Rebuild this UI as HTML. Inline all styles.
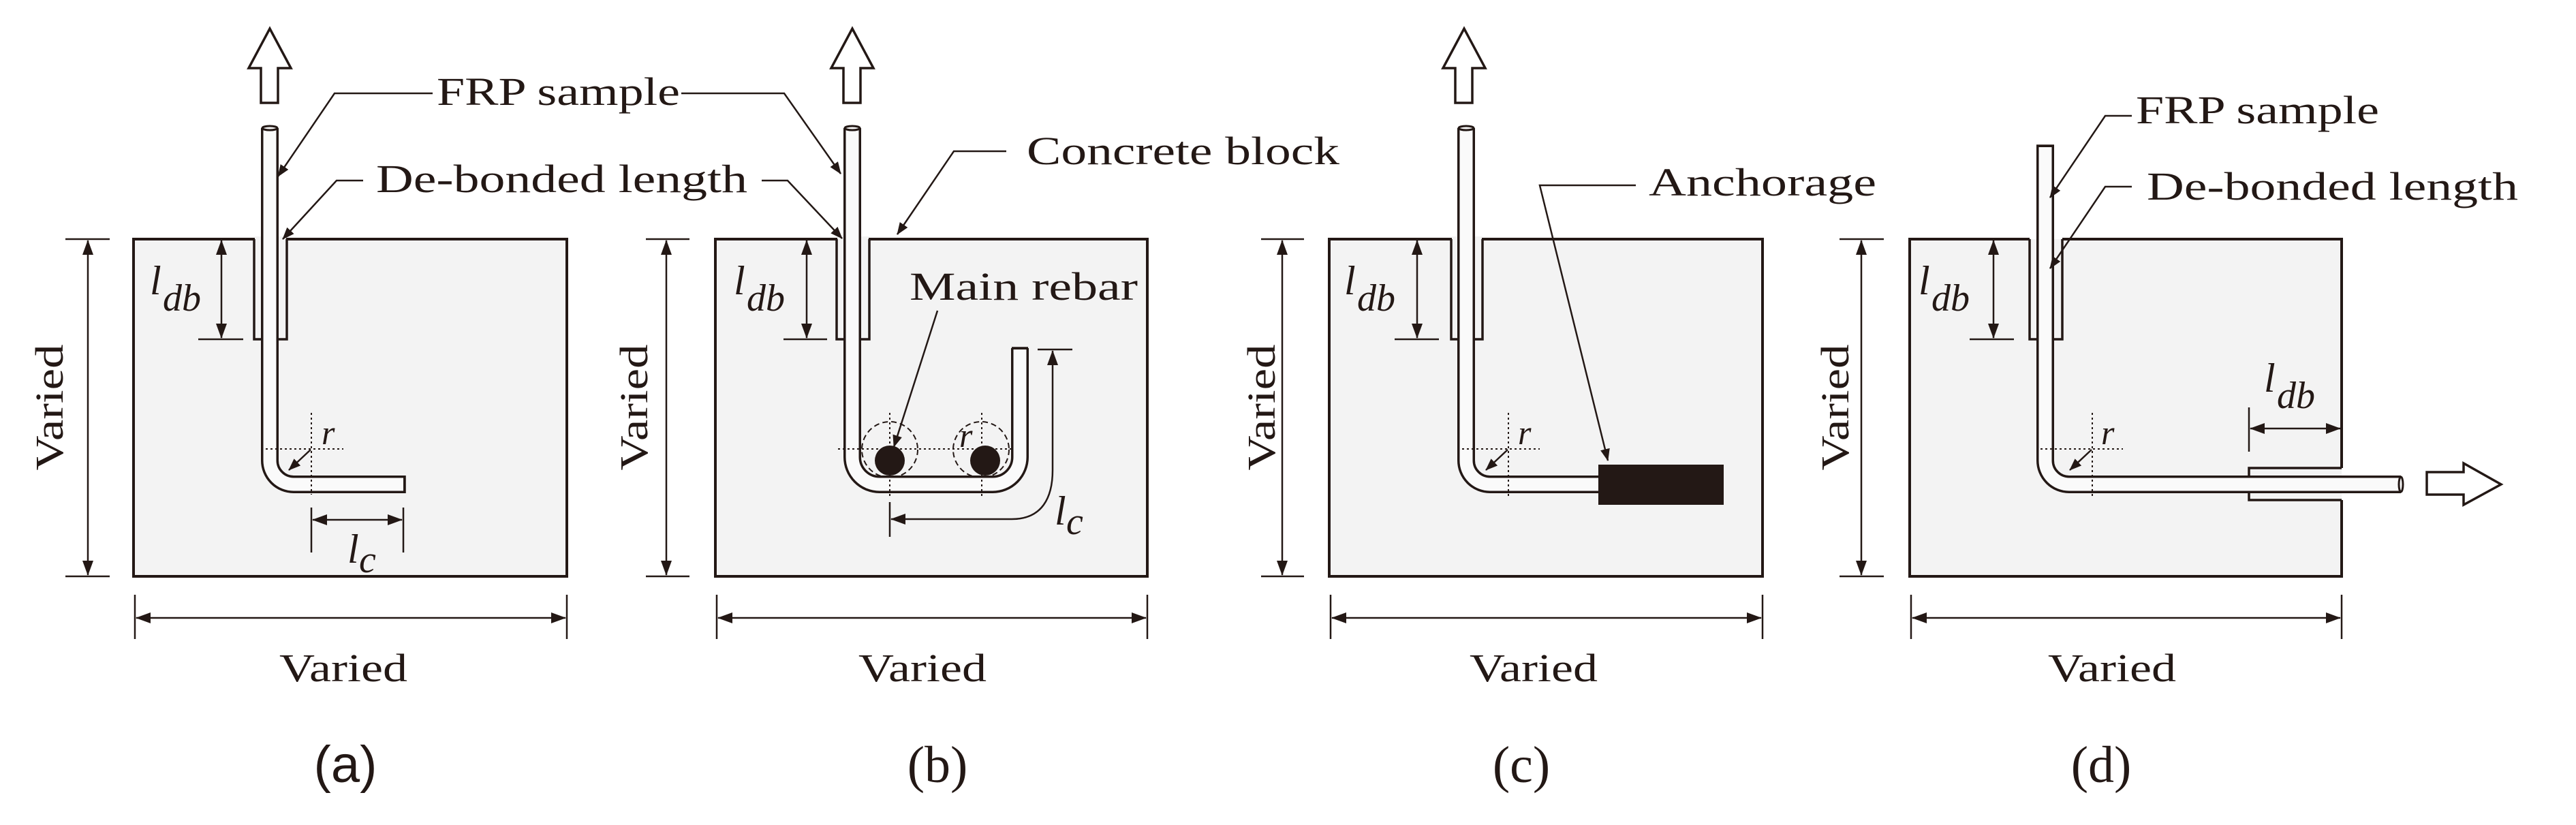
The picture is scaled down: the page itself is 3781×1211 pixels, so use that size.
<!DOCTYPE html>
<html><head><meta charset="utf-8"><style>
html,body{margin:0;padding:0;background:#fff;}
svg{display:block;}
text{font-family:"Liberation Serif",serif;fill:#231815;}
.lab{font-size:58px;}
.it{font-style:italic;}
</style></head><body>
<svg width="3781" height="1211" viewBox="0 0 3781 1211" xmlns="http://www.w3.org/2000/svg">
<defs>
<marker id="ah" markerUnits="userSpaceOnUse" markerWidth="22" markerHeight="16" viewBox="0 0 22 16" refX="21" refY="8" orient="auto-start-reverse">
<path d="M0,0 L22,8 L0,16 z" fill="#231815"/></marker>
<marker id="sa" markerUnits="userSpaceOnUse" markerWidth="18" markerHeight="14" viewBox="0 0 18 14" refX="17" refY="7" orient="auto">
<path d="M0,0 L18,7 L0,14 z" fill="#231815"/></marker>
</defs>
<g stroke="#231815" fill="none">

<!-- ============ Panel A ============ -->
<rect x="196" y="351" width="636" height="495" fill="#f3f3f3" stroke-width="4"/>
<rect x="374" y="347" width="46" height="8" fill="#f3f3f3" stroke="none"/>
<path d="M373,351 V498 H421 V351" stroke-width="3.5"/>
<path d="M396,188 V676 A35,35 0 0 0 431,711 H594" stroke-width="26"/>
<path d="M396,187 V676 A35,35 0 0 0 431,711 H592" stroke="#fafafa" stroke-width="19"/>
<line x1="594" y1="698" x2="594" y2="724" stroke-width="3.5"/>
<ellipse cx="396" cy="188" rx="11" ry="3" stroke-width="3"/>
<polygon points="396,42 427,100 408,100 408,151 383,151 383,100 365,100" stroke-width="3.5" fill="#fff"/>
<line x1="96" y1="351" x2="161" y2="351" stroke-width="2.5"/>
<line x1="96" y1="846" x2="161" y2="846" stroke-width="2.5"/>
<line x1="129" y1="353" x2="129" y2="844" stroke-width="2.5" marker-start="url(#ah)" marker-end="url(#ah)"/>
<line x1="198" y1="873" x2="198" y2="938" stroke-width="2.5"/>
<line x1="832" y1="873" x2="832" y2="938" stroke-width="2.5"/>
<line x1="200" y1="907" x2="830" y2="907" stroke-width="2.5" marker-start="url(#ah)" marker-end="url(#ah)"/>
<line x1="291" y1="498" x2="357" y2="498" stroke-width="2.5"/>
<line x1="325" y1="353" x2="325" y2="496" stroke-width="2.5" marker-start="url(#ah)" marker-end="url(#ah)"/>
<line x1="457" y1="745" x2="457" y2="811" stroke-width="2.5"/>
<line x1="592" y1="745" x2="592" y2="811" stroke-width="2.5"/>
<line x1="459" y1="763" x2="590" y2="763" stroke-width="2.5" marker-start="url(#ah)" marker-end="url(#ah)"/>
<line x1="383" y1="659" x2="504" y2="659" stroke-width="2" stroke-dasharray="3,4"/>
<line x1="457" y1="606" x2="457" y2="726" stroke-width="2" stroke-dasharray="3,4"/>
<line x1="456" y1="660" x2="424" y2="690" stroke-width="2.5" marker-end="url(#sa)"/>
<polyline points="635,137 491,137 408,259" stroke-width="2.5" marker-end="url(#sa)"/>
<polyline points="533,265 494,265 415,351" stroke-width="2.5" marker-end="url(#sa)"/>

<!-- ============ Panel B ============ -->
<rect x="1050" y="351" width="634" height="495" fill="#f3f3f3" stroke-width="4"/>
<rect x="1229" y="347" width="46" height="8" fill="#f3f3f3" stroke="none"/>
<path d="M1228,351 V498 H1276 V351" stroke-width="3.5"/>
<circle cx="1306" cy="660" r="41" stroke-width="2" stroke-dasharray="8,5"/>
<circle cx="1440" cy="660" r="41" stroke-width="2" stroke-dasharray="8,5"/>
<path d="M1251,188 V671 A40,40 0 0 0 1291,711 H1457 A40,40 0 0 0 1497,671 V511" stroke-width="26"/>
<path d="M1251,187 V671 A40,40 0 0 0 1291,711 H1457 A40,40 0 0 0 1497,671 V513" stroke="#fafafa" stroke-width="19"/>
<line x1="1485" y1="511" x2="1509" y2="511" stroke-width="3.5"/>
<ellipse cx="1251" cy="188" rx="11" ry="3" stroke-width="3"/>
<ellipse cx="1306" cy="676" rx="22" ry="22" fill="#231815" stroke="none"/>
<ellipse cx="1446" cy="676" rx="22" ry="22" fill="#231815" stroke="none"/>
<line x1="1230" y1="659" x2="1485" y2="659" stroke-width="2" stroke-dasharray="3,4"/>
<line x1="1306" y1="606" x2="1306" y2="730" stroke-width="2" stroke-dasharray="3,4"/>
<line x1="1441" y1="606" x2="1441" y2="730" stroke-width="2" stroke-dasharray="3,4"/>
<polygon points="1251,42 1282,100 1263,100 1263,151 1238,151 1238,100 1220,100" stroke-width="3.5" fill="#fff"/>
<line x1="948" y1="351" x2="1012" y2="351" stroke-width="2.5"/>
<line x1="948" y1="846" x2="1012" y2="846" stroke-width="2.5"/>
<line x1="978" y1="353" x2="978" y2="844" stroke-width="2.5" marker-start="url(#ah)" marker-end="url(#ah)"/>
<line x1="1052" y1="873" x2="1052" y2="938" stroke-width="2.5"/>
<line x1="1684" y1="873" x2="1684" y2="938" stroke-width="2.5"/>
<line x1="1054" y1="907" x2="1682" y2="907" stroke-width="2.5" marker-start="url(#ah)" marker-end="url(#ah)"/>
<line x1="1150" y1="498" x2="1214" y2="498" stroke-width="2.5"/>
<line x1="1184" y1="353" x2="1184" y2="496" stroke-width="2.5" marker-start="url(#ah)" marker-end="url(#ah)"/>
<line x1="1306" y1="737" x2="1306" y2="788" stroke-width="2.5"/>
<line x1="1523" y1="513" x2="1574" y2="513" stroke-width="2.5"/>
<path d="M1308,762 H1485 C1530,762 1545,730 1545,690 V515" stroke-width="2.5" marker-start="url(#ah)" marker-end="url(#ah)"/>
<polyline points="1000,137 1151,137 1234,255" stroke-width="2.5" marker-end="url(#sa)"/>
<polyline points="1118,265 1156,265 1236,350" stroke-width="2.5" marker-end="url(#sa)"/>
<polyline points="1477,222 1400,222 1317,344" stroke-width="2.5" marker-end="url(#sa)"/>
<line x1="1376" y1="456" x2="1312" y2="656" stroke-width="2.5" marker-end="url(#sa)"/>

<!-- ============ Panel C ============ -->
<rect x="1951" y="351" width="636" height="495" fill="#f3f3f3" stroke-width="4"/>
<rect x="2131" y="347" width="44" height="8" fill="#f3f3f3" stroke="none"/>
<path d="M2130,351 V498 H2176 V351" stroke-width="3.5"/>
<path d="M2152,188 V676 A35,35 0 0 0 2187,711 H2350" stroke-width="26"/>
<path d="M2152,187 V676 A35,35 0 0 0 2187,711 H2350" stroke="#fafafa" stroke-width="19"/>
<ellipse cx="2152" cy="188" rx="11" ry="3" stroke-width="3"/>
<rect x="2346" y="682" width="184" height="59" fill="#231815" stroke="none"/>
<polygon points="2149,42 2180,100 2161,100 2161,151 2136,151 2136,100 2118,100" stroke-width="3.5" fill="#fff"/>
<line x1="1851" y1="351" x2="1914" y2="351" stroke-width="2.5"/>
<line x1="1851" y1="846" x2="1914" y2="846" stroke-width="2.5"/>
<line x1="1882" y1="353" x2="1882" y2="844" stroke-width="2.5" marker-start="url(#ah)" marker-end="url(#ah)"/>
<line x1="1953" y1="873" x2="1953" y2="938" stroke-width="2.5"/>
<line x1="2587" y1="873" x2="2587" y2="938" stroke-width="2.5"/>
<line x1="1955" y1="907" x2="2585" y2="907" stroke-width="2.5" marker-start="url(#ah)" marker-end="url(#ah)"/>
<line x1="2047" y1="498" x2="2112" y2="498" stroke-width="2.5"/>
<line x1="2080" y1="353" x2="2080" y2="496" stroke-width="2.5" marker-start="url(#ah)" marker-end="url(#ah)"/>
<line x1="2139" y1="659" x2="2260" y2="659" stroke-width="2" stroke-dasharray="3,4"/>
<line x1="2214" y1="606" x2="2214" y2="730" stroke-width="2" stroke-dasharray="3,4"/>
<line x1="2213" y1="660" x2="2181" y2="690" stroke-width="2.5" marker-end="url(#sa)"/>
<polyline points="2401,272 2260,272 2360,676" stroke-width="2.5" marker-end="url(#sa)"/>

<!-- ============ Panel D ============ -->
<rect x="2803" y="351" width="634" height="495" fill="#f3f3f3" stroke="none"/>
<path d="M2979,351 H2803 V846 H3437 V734 M3437,687 V351 H3027" stroke-width="4"/>
<path d="M2979,351 V498 H3027 V351" stroke-width="3.5"/>
<path d="M3437,687 H3301 V734 H3437" stroke-width="3.5"/>
<path d="M3002,214 V676 A35,35 0 0 0 3037,711 H3524" stroke-width="26"/>
<path d="M3002,216 V676 A35,35 0 0 0 3037,711 H3524" stroke="#fafafa" stroke-width="19"/>
<line x1="2989" y1="214" x2="3015" y2="214" stroke-width="3.5"/>
<ellipse cx="3524" cy="711" rx="3" ry="11" stroke-width="3"/>
<polygon points="3562,693 3616,693 3616,680 3671,711 3616,741 3616,726 3562,726" stroke-width="3.5" fill="#fff"/>
<line x1="2700" y1="351" x2="2765" y2="351" stroke-width="2.5"/>
<line x1="2700" y1="846" x2="2765" y2="846" stroke-width="2.5"/>
<line x1="2732" y1="353" x2="2732" y2="844" stroke-width="2.5" marker-start="url(#ah)" marker-end="url(#ah)"/>
<line x1="2805" y1="873" x2="2805" y2="938" stroke-width="2.5"/>
<line x1="3437" y1="873" x2="3437" y2="938" stroke-width="2.5"/>
<line x1="2807" y1="907" x2="3435" y2="907" stroke-width="2.5" marker-start="url(#ah)" marker-end="url(#ah)"/>
<line x1="2891" y1="498" x2="2956" y2="498" stroke-width="2.5"/>
<line x1="2926" y1="353" x2="2926" y2="496" stroke-width="2.5" marker-start="url(#ah)" marker-end="url(#ah)"/>
<line x1="3301" y1="598" x2="3301" y2="663" stroke-width="2.5"/>
<line x1="3303" y1="629" x2="3435" y2="629" stroke-width="2.5" marker-start="url(#ah)" marker-end="url(#ah)"/>
<line x1="2995" y1="659" x2="3116" y2="659" stroke-width="2" stroke-dasharray="3,4"/>
<line x1="3071" y1="606" x2="3071" y2="730" stroke-width="2" stroke-dasharray="3,4"/>
<line x1="3070" y1="660" x2="3038" y2="690" stroke-width="2.5" marker-end="url(#sa)"/>
<polyline points="3129,170 3090,170 3009,290" stroke-width="2.5" marker-end="url(#sa)"/>
<polyline points="3129,274 3090,274 3009,394" stroke-width="2.5" marker-end="url(#sa)"/>
</g>

<g class="lab">
<text x="641" y="154" textLength="357" lengthAdjust="spacingAndGlyphs">FRP sample</text>
<text x="552" y="282" textLength="545" lengthAdjust="spacingAndGlyphs">De-bonded length</text>
<text x="1507" y="241" textLength="459" lengthAdjust="spacingAndGlyphs">Concrete block</text>
<text x="1335" y="440" textLength="335" lengthAdjust="spacingAndGlyphs">Main rebar</text>
<text x="2420" y="287" textLength="334" lengthAdjust="spacingAndGlyphs">Anchorage</text>
<text x="3135" y="181" textLength="357" lengthAdjust="spacingAndGlyphs">FRP sample</text>
<text x="3151" y="293" textLength="545" lengthAdjust="spacingAndGlyphs">De-bonded length</text>

<text x="504" y="1000" text-anchor="middle" textLength="188" lengthAdjust="spacingAndGlyphs">Varied</text>
<text x="1354" y="1000" text-anchor="middle" textLength="188" lengthAdjust="spacingAndGlyphs">Varied</text>
<text x="2251" y="1000" text-anchor="middle" textLength="188" lengthAdjust="spacingAndGlyphs">Varied</text>
<text x="3100" y="1000" text-anchor="middle" textLength="188" lengthAdjust="spacingAndGlyphs">Varied</text>

<text transform="translate(92,598) rotate(-90)" text-anchor="middle" textLength="185" lengthAdjust="spacingAndGlyphs">Varied</text>
<text transform="translate(950,598) rotate(-90)" text-anchor="middle" textLength="185" lengthAdjust="spacingAndGlyphs">Varied</text>
<text transform="translate(1871,598) rotate(-90)" text-anchor="middle" textLength="185" lengthAdjust="spacingAndGlyphs">Varied</text>
<text transform="translate(2713,598) rotate(-90)" text-anchor="middle" textLength="185" lengthAdjust="spacingAndGlyphs">Varied</text>
</g>

<g style="font-size:76px">
<text x="507" y="1148" text-anchor="middle" style="font-family:'Liberation Sans',sans-serif">(a)</text>
<text x="1376" y="1148" text-anchor="middle">(b)</text>
<text x="2233" y="1148" text-anchor="middle">(c)</text>
<text x="3084" y="1148" text-anchor="middle">(d)</text>
</g>

<g class="it">
<text x="220" y="432" style="font-size:60px">l</text><text x="239" y="456" style="font-size:56px">db</text>
<text x="1077" y="432" style="font-size:60px">l</text><text x="1096" y="456" style="font-size:56px">db</text>
<text x="1973" y="432" style="font-size:60px">l</text><text x="1992" y="456" style="font-size:56px">db</text>
<text x="2816" y="432" style="font-size:60px">l</text><text x="2835" y="456" style="font-size:56px">db</text>
<text x="3323" y="575" style="font-size:60px">l</text><text x="3342" y="599" style="font-size:56px">db</text>
<text x="510" y="826" style="font-size:60px">l</text><text x="527" y="840" style="font-size:56px">c</text>
<text x="1548" y="770" style="font-size:60px">l</text><text x="1565" y="784" style="font-size:56px">c</text>
<text x="472" y="652" style="font-size:50px">r</text>
<text x="1408" y="656" style="font-size:50px">r</text>
<text x="2228" y="652" style="font-size:50px">r</text>
<text x="3084" y="652" style="font-size:50px">r</text>
</g>
</svg>
</body></html>
